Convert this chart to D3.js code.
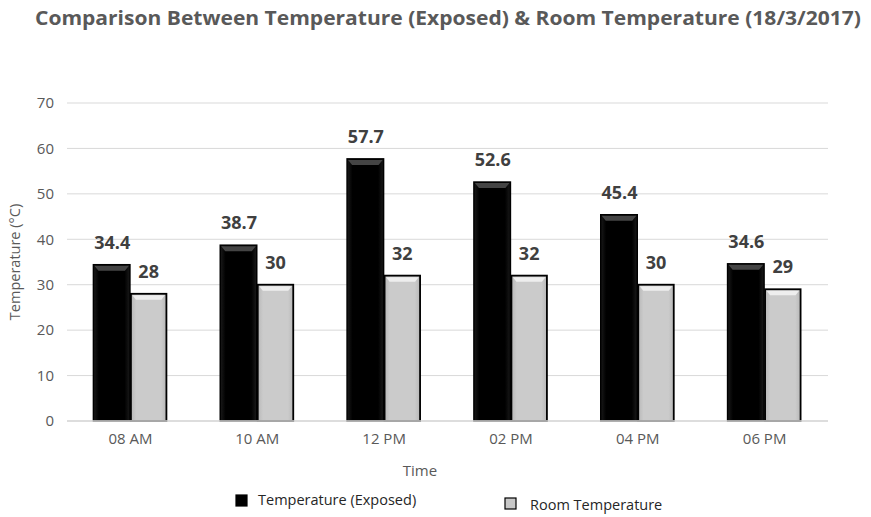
<!DOCTYPE html>
<html><head><meta charset="utf-8">
<script src="https://cdn.jsdelivr.net/npm/d3@7"></script>
<style>body{margin:0;background:#fff}svg{display:block}</style>
</head><body>
<script>
const categories = ["08 AM","10 AM","12 PM","02 PM","04 PM","06 PM"];
const exposed = [34.4, 38.7, 57.7, 52.6, 45.4, 34.6];
const room = [28, 30, 32, 32, 30, 29];
const yTicks = [0,10,20,30,40,50,60,70];
const seriesNames = ["Temperature (Exposed)", "Room Temperature"];

(function(){
const W = 871, H = 517;
const svg = d3.select("body").append("svg").attr("width", W).attr("height", H);
const defs = svg.append("defs");
const gb = defs.append("linearGradient").attr("id","gBlack").attr("x1",0).attr("x2",1);
gb.append("stop").attr("offset","0%").attr("stop-color","#1a1a1a");
gb.append("stop").attr("offset","15%").attr("stop-color","#000");
gb.append("stop").attr("offset","85%").attr("stop-color","#000");
gb.append("stop").attr("offset","100%").attr("stop-color","#1a1a1a");
const gg = defs.append("linearGradient").attr("id","gGray").attr("x1",0).attr("x2",1);
gg.append("stop").attr("offset","0%").attr("stop-color","#b8b8b8");
gg.append("stop").attr("offset","15%").attr("stop-color","#cbcbcb");
gg.append("stop").attr("offset","85%").attr("stop-color","#cbcbcb");
gg.append("stop").attr("offset","100%").attr("stop-color","#b8b8b8");

const pLeft = 67, pRight = 828, pTop = 103, pBottom = 421;
const x = d3.scaleBand().domain(categories).range([pLeft, pRight]).paddingInner(0).paddingOuter(0);
const y = d3.scaleLinear().domain([0,70]).range([pBottom, pTop]);
const barW = 36.5;
const font = "Open Sans, sans-serif";

svg.append("g").selectAll("line").data(yTicks).join("line")
  .attr("x1", pLeft).attr("x2", pRight)
  .attr("y1", d=>y(d)).attr("y2", d=>y(d))
  .attr("stroke", "#d9d9d9").attr("stroke-width", 1);

const yAxis = d3.axisLeft(y).tickValues(yTicks).tickSize(0).tickPadding(13);
const ya = svg.append("g").attr("transform",`translate(${pLeft},0)`).call(yAxis);
ya.select(".domain").remove();
ya.selectAll("text").attr("font-family",font).attr("font-size",15).attr("fill","#595959");

const xAxis = d3.axisBottom(x).tickSize(0).tickPadding(12);
const xa = svg.append("g").attr("transform",`translate(0,${pBottom})`).call(xAxis);
xa.select(".domain").remove();
xa.selectAll("text").attr("font-family",font).attr("font-size",15).attr("fill","#595959");

const groups = svg.append("g").selectAll("g").data(categories).join("g")
  .attr("transform", d=>`translate(${x(d)+x.bandwidth()/2},0)`);

groups.append("rect")
  .attr("x", -barW - 0.5).attr("width", barW)
  .attr("y", (d,i)=>y(exposed[i])).attr("height",(d,i)=>pBottom - y(exposed[i]))
  .attr("fill","url(#gBlack)").attr("stroke","#000").attr("stroke-width",1.5);
groups.append("path")
  .attr("d",(d,i)=>{const t=y(exposed[i]);const x0=-barW-0.5;return `M${x0+1},${t+1}L${x0+barW-1},${t+1}L${x0+barW-5},${t+6}L${x0+5},${t+6}Z`;})
  .attr("fill","#555").attr("opacity",0.8);

groups.append("rect")
  .attr("x", 0.5).attr("width", barW-1)
  .attr("y", (d,i)=>y(room[i])).attr("height",(d,i)=>pBottom - y(room[i]))
  .attr("fill","url(#gGray)").attr("stroke","#000").attr("stroke-width",1.8);
groups.append("path")
  .attr("d",(d,i)=>{const t=y(room[i]);const x0=0.5;const w=barW-1;return `M${x0+1.5},${t+1.5}L${x0+w-1.5},${t+1.5}L${x0+w-5},${t+6}L${x0+5},${t+6}Z`;})
  .attr("fill","#f2f2f2").attr("opacity",0.9);

svg.append("line").attr("x1",pLeft).attr("x2",pRight).attr("y1",pBottom).attr("y2",pBottom)
  .attr("stroke","#d9d9d9").attr("stroke-width",1.5);

groups.append("text").attr("x",-barW/2).attr("y",(d,i)=>y(exposed[i])-16)
  .attr("text-anchor","middle").attr("font-family",font).attr("font-weight","bold")
  .attr("font-size",18).attr("fill","#404040").text((d,i)=>exposed[i]);
groups.append("text").attr("x",barW/2).attr("y",(d,i)=>y(room[i])-16)
  .attr("text-anchor","middle").attr("font-family",font).attr("font-weight","bold")
  .attr("font-size",18).attr("fill","#404040").text((d,i)=>room[i]);

svg.append("text").attr("x",448).attr("y",25).attr("text-anchor","middle")
  .attr("font-family",font).attr("font-weight","bold").attr("font-size",20)
  .attr("fill","#595959").attr("textLength",826).attr("lengthAdjust","spacingAndGlyphs")
  .text("Comparison Between Temperature (Exposed) & Room Temperature (18/3/2017)");

svg.append("text").attr("transform","translate(20,262) rotate(-90)").attr("text-anchor","middle")
  .attr("font-family",font).attr("font-size",14.5).attr("fill","#595959")
  .text("Temperature (°C)");
svg.append("text").attr("x",420).attr("y",476).attr("text-anchor","middle")
  .attr("font-family",font).attr("font-size",15).attr("fill","#595959")
  .text("Time");

const legend = [
  {name: seriesNames[0], fill:"#000", sx:236, sy:495, tx:258, ty:505},
  {name: seriesNames[1], fill:"#c8c8c8", sx:505, sy:498, tx:530, ty:510}
];
const lg = svg.append("g").selectAll("g").data(legend).join("g");
lg.append("rect").attr("x",d=>d.sx).attr("y",d=>d.sy).attr("width",11).attr("height",11)
  .attr("fill",d=>d.fill).attr("stroke","#000").attr("stroke-width",1.2);
lg.append("text").attr("x",d=>d.tx).attr("y",d=>d.ty)
  .attr("font-family",font).attr("font-size",14.5).attr("fill","#262626")
  .text(d=>d.name);
})();
</script>
</body></html>
